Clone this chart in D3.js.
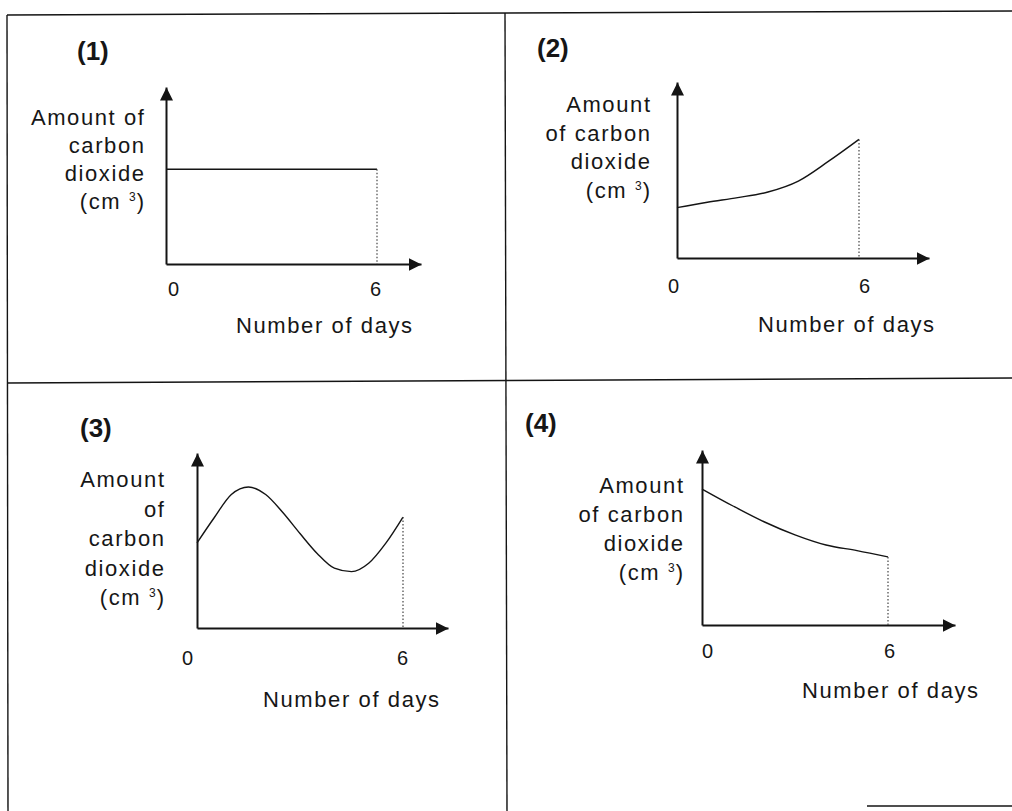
<!DOCTYPE html>
<html>
<head>
<meta charset="utf-8">
<script src="https://cdn.jsdelivr.net/npm/d3@7"></script>
<style>
  body { margin: 0; background: #fff; }
  svg { display: block; }
  text { font-family: "Liberation Sans", Arial, sans-serif; fill: #161616; }
</style>
</head>
<body>
<svg id="chart" width="1012" height="811"></svg>
<script>
// data (value units: 10 = tip of the y arrow)
const days = [0, 1, 2, 3, 4, 5, 6];
const halfDays = [0, 0.5, 1, 1.5, 2, 2.5, 3, 3.5, 4, 4.5, 5, 5.5, 6];
const co2Graph1 = [5.35, 5.35, 5.35, 5.35, 5.35, 5.35, 5.35];
const co2Graph2 = [2.86, 3.17, 3.43, 3.75, 4.37, 5.5, 6.74];
const co2Graph3 = [4.86, 6.3, 7.63, 8.06, 7.63, 6.6, 5.4, 4.26, 3.42, 3.22, 3.7, 4.85, 6.34];
const co2Graph4 = [7.77, 6.8, 5.9, 5.15, 4.57, 4.25, 3.89];

const graphNames = ['(1)', '(2)', '(3)', '(4)'];
const yTitleLines = [
  ['Amount of', 'carbon', 'dioxide'],
  ['Amount', 'of carbon', 'dioxide'],
  ['Amount', 'of', 'carbon', 'dioxide'],
  ['Amount', 'of carbon', 'dioxide']
];
const xTickValues = [0, 6];
const xTickLabels = ['0', '6'];
const xTitle = 'Number of days';

// where each little graph sits on the sheet
const layout = [
  { ox: 166, oy: 264, x6: 377, xEnd: 421, yTop: 87,  nameX: 77,  nameY: 60,  yTitleX: 144, yTitleY: 125, lineH: 28,   zeroDx: 7,   sixDx: -2, tickY: 296, xTitleX: 236, xTitleY: 333 },
  { ox: 677, oy: 258, x6: 859, xEnd: 929, yTop: 82,  nameX: 537, nameY: 57,  yTitleX: 650, yTitleY: 112, lineH: 28.5, zeroDx: -4,  sixDx: 5,  tickY: 293, xTitleX: 758, xTitleY: 332 },
  { ox: 197, oy: 628, x6: 403, xEnd: 448, yTop: 453, nameX: 80,  nameY: 437, yTitleX: 164, yTitleY: 487, lineH: 29.5, zeroDx: -10, sixDx: -1, tickY: 665, xTitleX: 263, xTitleY: 707 },
  { ox: 702, oy: 625, x6: 888, xEnd: 955, yTop: 450, nameX: 525, nameY: 432, yTitleX: 683, yTitleY: 493, lineH: 29,   zeroDx: 5,   sixDx: 1,  tickY: 658, xTitleX: 802, xTitleY: 698 }
];

const series = [
  { xs: days, ys: co2Graph1, curve: d3.curveLinear },
  { xs: days, ys: co2Graph2, curve: d3.curveMonotoneX },
  { xs: halfDays, ys: co2Graph3, curve: d3.curveMonotoneX },
  { xs: days, ys: co2Graph4, curve: d3.curveMonotoneX }
];

const ink = '#141414';
const fs = 22;   // label size
const ls = 1.6;  // the scan's text is set a little loose

const svg = d3.select('#chart');

svg.append('defs').append('marker')
  .attr('id', 'arrow')
  .attr('viewBox', '0 0 13 13')
  .attr('refX', 13)
  .attr('refY', 6.5)
  .attr('markerWidth', 13)
  .attr('markerHeight', 13)
  .attr('markerUnits', 'userSpaceOnUse')
  .attr('orient', 'auto')
  .append('path')
  .attr('d', 'M0,0L13,6.5L0,13Z')
  .attr('fill', ink);

// the ruled frame of the question sheet
const frame = svg.append('g').attr('stroke', ink).attr('stroke-width', 1.4).attr('fill', 'none');
frame.append('line').attr('x1', 7).attr('y1', 15).attr('x2', 1012).attr('y2', 11);
frame.append('line').attr('x1', 7).attr('y1', 15).attr('x2', 8).attr('y2', 811);
frame.append('line').attr('x1', 505).attr('y1', 13).attr('x2', 507).attr('y2', 811);
frame.append('line').attr('x1', 7).attr('y1', 383).attr('x2', 1012).attr('y2', 378);
frame.append('line').attr('x1', 867).attr('y1', 806).attr('x2', 1012).attr('y2', 806);

series.forEach((s, i) => {
  const L = layout[i];
  const g = svg.append('g');

  const x = d3.scaleLinear().domain([0, 6]).range([L.ox, L.x6]);
  const y = d3.scaleLinear().domain([0, 10]).range([L.oy, L.yTop]);
  const xAxisScale = d3.scaleLinear().domain([0, x.invert(L.xEnd)]).range([L.ox, L.xEnd]);

  // x axis with arrow, only 0 and 6 labelled
  const xAxis = g.append('g')
    .attr('transform', `translate(0,${L.oy})`)
    .call(d3.axisBottom(xAxisScale)
      .tickValues(xTickValues)
      .tickSize(0)
      .tickSizeOuter(0)
      .tickFormat((d, j) => xTickLabels[j]));
  xAxis.select('.domain')
    .attr('stroke', ink)
    .attr('stroke-width', 2)
    .attr('marker-end', 'url(#arrow)');
  xAxis.selectAll('.tick text')
    .attr('y', L.tickY - L.oy)
    .attr('dy', null)
    .attr('dx', (d, j) => j ? L.sixDx : L.zeroDx)
    .style('font-size', '20px')
    .style('font-family', '"Liberation Sans", Arial, sans-serif');

  // y axis, no ticks
  const yAxis = g.append('g')
    .attr('transform', `translate(${L.ox},0)`)
    .call(d3.axisLeft(y).tickValues([]).tickSizeOuter(0));
  yAxis.select('.domain')
    .attr('stroke', ink)
    .attr('stroke-width', 2)
    .attr('marker-end', 'url(#arrow)');

  // the curve
  const pts = s.xs.map((d, j) => [d, s.ys[j]]);
  g.append('path')
    .datum(pts)
    .attr('fill', 'none')
    .attr('stroke', ink)
    .attr('stroke-width', 1.4)
    .attr('d', d3.line().x(d => x(d[0])).y(d => y(d[1])).curve(s.curve));

  // dotted drop line at day 6
  const last = pts[pts.length - 1];
  g.append('line')
    .attr('x1', x(last[0])).attr('x2', x(last[0]))
    .attr('y1', y(last[1])).attr('y2', L.oy)
    .attr('stroke', '#444')
    .attr('stroke-width', 1.2)
    .attr('stroke-dasharray', '1.5,2');

  // graph number
  g.append('text')
    .attr('x', L.nameX)
    .attr('y', L.nameY)
    .style('font-size', '26px')
    .style('font-weight', 'bold')
    .text(graphNames[i]);

  // y title, right aligned, last line carries the superscript
  const lines = yTitleLines[i];
  lines.forEach((t, j) => {
    g.append('text')
      .attr('x', L.yTitleX + ls)
      .attr('y', L.yTitleY + j * L.lineH)
      .attr('text-anchor', 'end')
      .style('font-size', fs + 'px')
      .style('letter-spacing', ls + 'px')
      .text(t);
  });
  const unit = g.append('text')
    .attr('x', L.yTitleX + ls)
    .attr('y', L.yTitleY + lines.length * L.lineH)
    .attr('text-anchor', 'end')
    .style('font-size', fs + 'px')
    .style('letter-spacing', ls + 'px');
  unit.append('tspan').text('(cm ');
  unit.append('tspan').attr('dy', -8).style('font-size', '12px').style('letter-spacing', '1px').text('3');
  unit.append('tspan').attr('dy', 8).text(')');

  // x title
  g.append('text')
    .attr('x', L.xTitleX)
    .attr('y', L.xTitleY)
    .style('font-size', fs + 'px')
    .style('letter-spacing', ls + 'px')
    .text(xTitle);
});
</script>
</body>
</html>
